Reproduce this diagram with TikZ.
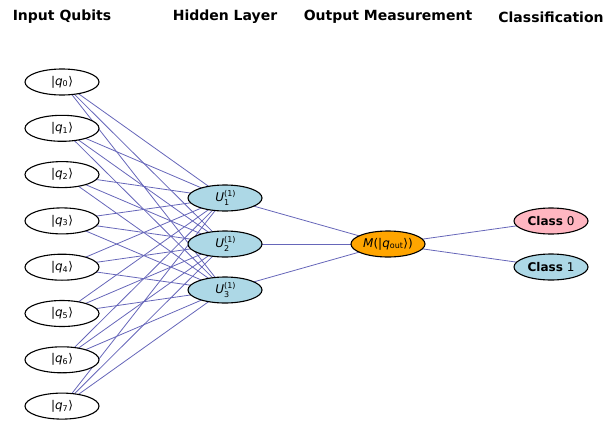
\documentclass[tikz,border=0pt]{standalone}
\usepackage{fontspec}
\setmainfont{DejaVu Sans}
\usetikzlibrary{shapes.geometric}
\pgfdeclarelayer{bg}
\pgfsetlayers{bg,main}
\definecolor{edgeblue}{RGB}{102,102,185}
\definecolor{lblue}{RGB}{173,216,230}
\definecolor{lpink}{RGB}{255,182,193}
\definecolor{orng}{RGB}{255,165,0}
\newcommand{\qket}[1]{|{\itshape q}\textsubscript{#1}⟩}
% superscript stacked over subscript
\newcommand{\smallidx}{\fontsize{8}{9}\selectfont}
\newcommand{\supsub}[2]{\makebox[0pt][l]{\raisebox{0.78ex}{\smallidx #1}}%
  \raisebox{-0.6ex}{\smallidx #2}\hphantom{\smallidx #1}\kern-0.9ex}
\tikzset{
  qnode/.style={ellipse, draw=black, line width=1.1pt, minimum width=74pt,
    minimum height=26pt, inner sep=0pt, font=\fontsize{12}{14}\selectfont},
  header/.style={font=\fontsize{14}{16}\bfseries\selectfont},
  link/.style={edgeblue, line width=0.8pt}
}
\begin{document}
\begin{tikzpicture}[x=1pt,y=-1pt]
\useasboundingbox (0,0) rectangle (615,420);
% column headers
\node[header] (h0) at (62,17) {Input Qubits};
\node[header] (h1) at (225,17) {Hidden Layer};
\node[header] (h2) at (388,17) {Output Measurement};
\node[header] (h3) at (551,17) {Classification};
% input qubits
\foreach \i in {0,...,7}
  \node[qnode, fill=white] (q\i) at (62,82+46.3*\i) {\qket{\i}};
% hidden layer
\foreach \j in {1,2,3}
  \node[qnode, fill=lblue] (u\j) at (225,152+46*\j)
    {{\itshape U}\supsub{(1)}{\j}};
% output measurement
\node[qnode, fill=orng] (m) at (388,244) {{\itshape M}(\qket{out})};
% classes
\node[qnode, fill=lpink] (c0) at (551,221) {\textbf{Class} 0};
\node[qnode, fill=lblue] (c1) at (551,267) {\textbf{Class} 1};
% connections
\begin{pgfonlayer}{bg}
\foreach \i in {0,...,7}
  \foreach \j in {1,2,3}
    \draw[link] (q\i.center) -- (u\j.center);
\foreach \j in {1,2,3}
  \draw[link] (u\j.center) -- (m.center);
\draw[link] (m.center) -- (c0.center);
\draw[link] (m.center) -- (c1.center);
\end{pgfonlayer}
\end{tikzpicture}
\end{document}
